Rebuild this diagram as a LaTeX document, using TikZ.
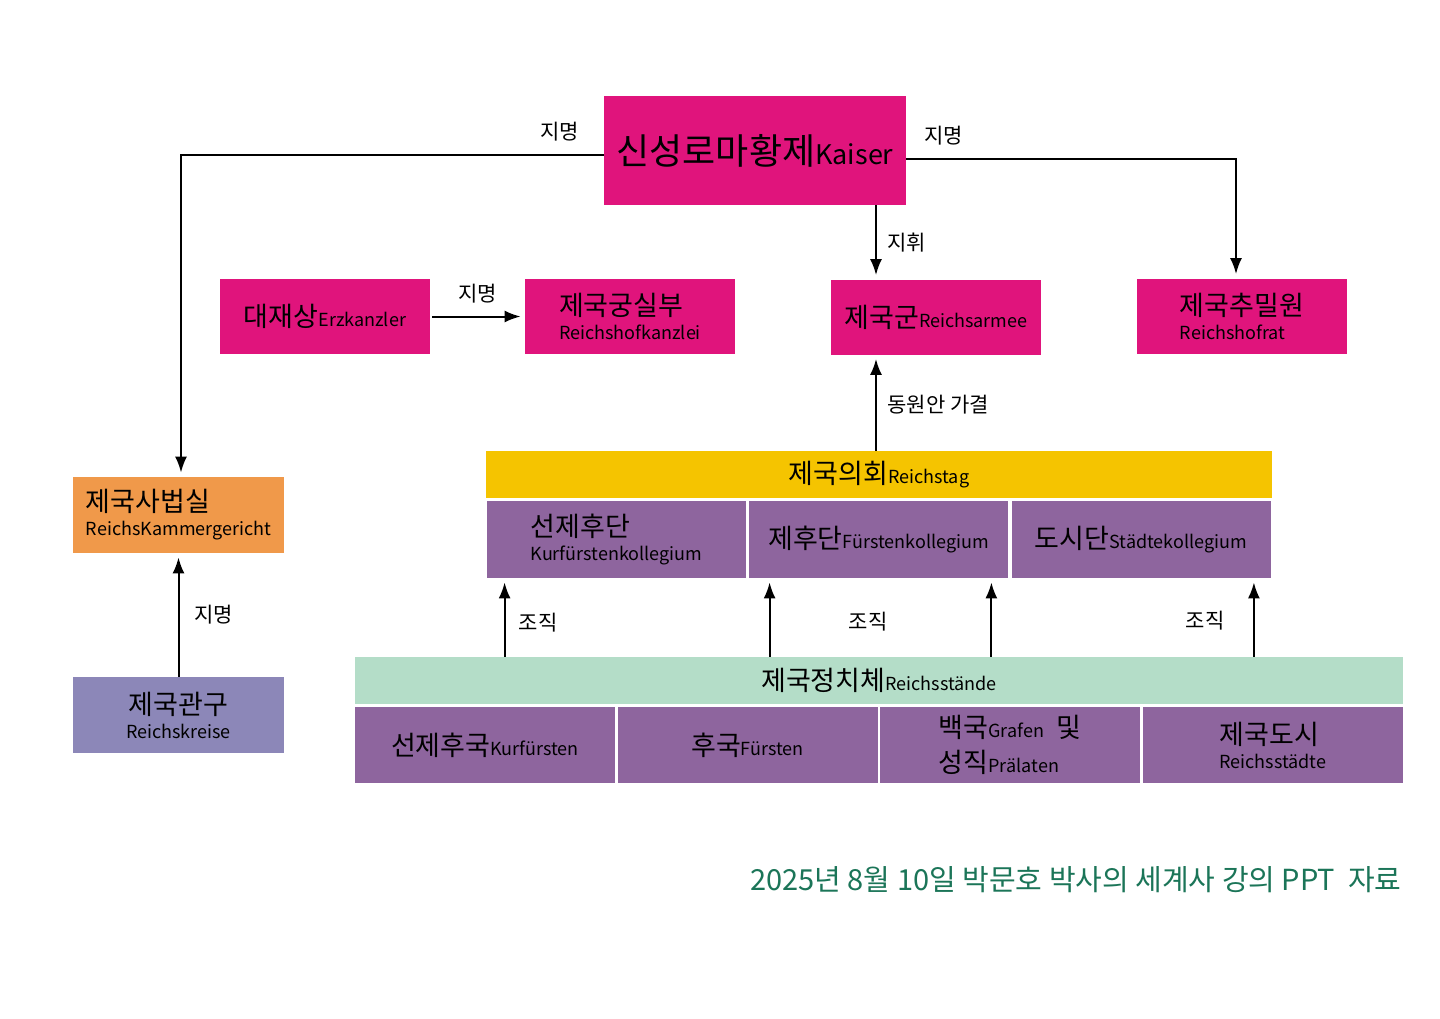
\documentclass[tikz,border=0pt]{standalone}
\usepackage{fontspec}
\setmainfont{Noto Sans CJK KR}
\usetikzlibrary{arrows.meta}

\definecolor{kaisermag}{HTML}{E0147C}
\definecolor{courtorange}{HTML}{F0994A}
\definecolor{circlelav}{HTML}{8C87B8}
\definecolor{tagyellow}{HTML}{F5C400}
\definecolor{estatepurple}{HTML}{8E659E}
\definecolor{estategreen}{HTML}{B4DDC8}
\definecolor{footgreen}{HTML}{1B7558}

\newcommand{\bigk}{\fontsize{13.5}{16}\selectfont}
\newcommand{\hugek}{\fontsize{18}{21}\selectfont}
\newcommand{\lat}{\fontsize{9}{11}\selectfont}

\tikzset{
  organ/.style={fill=kaisermag, minimum width=105pt, minimum height=37.5pt, inner sep=2pt, align=left, font=\bigk},
  college/.style={fill=estatepurple, minimum width=129.5pt, minimum height=38.5pt, inner sep=2pt, align=left, font=\bigk},
  estate/.style={fill=estatepurple, minimum width=130pt, minimum height=38pt, inner sep=0pt, align=left, font=\bigk},
  bar/.style={minimum height=23.5pt, inner sep=2pt, font=\bigk},
  arr/.style={-{Latex[length=8pt,width=6pt]}, line width=1pt, shorten >=2pt},
  lbl/.style={font=\fontsize{10.5}{12}\selectfont},
}

\begin{document}
\begin{tikzpicture}[x=0.5pt,y=-0.5pt]
                    \useasboundingbox (0,0) rectangle (1440,1018);
                    \fill [white] (0,0) rectangle (1440,1018);%

                    % Drawing box Kaiser
                    \node [organ, minimum width=151pt, minimum height=54.5pt] (kaiser) at (755,150.5) {{\hugek 신성로마황제}{\fontsize{13.5}{15}\selectfont Kaiser}};%

                    % Drawing boxes of the second row
                    \node [organ] (erz) at (325,316.5) {대재상{\lat Erzkanzler}};%
                    \node [organ] (hofk) at (630,316.5) {제국궁실부\\[-4pt]{\lat Reichshofkanzlei}};%
                    \node [organ] (armee) at (936,317) {제국군{\lat Reichsarmee}};%
                    \node [organ] (hofrat) at (1242,316) {제국추밀원\\[-4pt]{\lat Reichshofrat}};%

                    % Drawing boxes on the left
                    \node [organ, fill=courtorange, minimum width=105.5pt, minimum height=38pt] (kammer) at (178.5,515) {제국사법실\\[-4pt]{\lat ReichsKammergericht}};%
                    \node [organ, fill=circlelav, minimum width=105.5pt, minimum height=38pt, align=center] (kreise) at (178.5,715) {제국관구\\[-4pt]{\lat Reichskreise}};%

                    % Drawing Reichstag and its colleges
                    \node [bar, fill=tagyellow, minimum width=393pt] (tag) at (879,474.5) {제국의회{\lat Reichstag}};%
                    \node [college] (kurk) at (616.5,539.5) {선제후단\\[-4pt]{\lat Kurfürstenkollegium}};%
                    \node [college] (fuerk) at (878.5,539.5) {제후단{\lat Fürstenkollegium}};%
                    \node [college] (staedk) at (1141,539.5) {도시단{\lat Städtekollegium}};%

                    % Drawing Reichsstaende and the estates
                    \node [bar, fill=estategreen, minimum width=524pt] (staende) at (879,680.5) {제국정치체{\lat Reichsstände}};%
                    \node [estate] (kurf) at (485,745) {선제후국{\lat Kurfürsten}};%
                    \node [estate] (fuerst) at (747.5,745) {후국{\lat Fürsten}};%
                    \node [estate] (graf) at (1010,745) {백국{\lat Grafen}\ \ 및\\[1.5pt]성직{\lat Prälaten}};%
                    \node [estate] (stadt) at (1273,745) {제국도시\\[-4pt]{\lat Reichsstädte}};%

                    % Drawing appointments by the Kaiser
                    \draw [arr] ([yshift=-2pt]kaiser.west) -| node [lbl, pos=0.052, above=3pt] (appointL) {지명} ([xshift=1.25pt]kammer.north);%
                    \draw [arr] ([yshift=-4pt]kaiser.east) -| node [lbl, pos=0.056, above=3pt] (appointR) {지명} ([xshift=-3pt]hofrat.north);%

                    % Drawing command of the army
                    \coordinate (armeein) at ([xshift=-30pt]armee.north);%
                    \draw [arr] (kaiser.south -| armeein) -- node [lbl, right=2pt] (command) {지휘} (armeein);%
                    \draw [arr] (armeein |- tag.north) -- node [lbl, right=2pt, pos=0.48] (mobil) {동원안 가결} (armeein |- armee.south);%

                    % Drawing segment Erzkanzler Reichshofkanzlei
                    \draw [arr, shorten <=1pt] (erz) -- node [lbl, above=3pt] (appointH) {지명} (hofk);%

                    % Drawing segment Reichskreise Kammergericht
                    \draw [arr] (kreise) -- node [lbl, right=4pt] (appointK) {지명} (kammer);%

                    % Drawing organisation of the colleges
                    \coordinate (o1) at ([xshift=9pt]kurk.south west);%
                    \coordinate (o2) at ([xshift=10.5pt]fuerk.south west);%
                    \coordinate (o3) at ([xshift=-8.5pt]fuerk.south east);%
                    \coordinate (o4) at ([xshift=-8.5pt]staedk.south east);%
                    \foreach \o in {o1,o2,o3,o4}
                      \draw [arr] (staende.north -| \o) -- (\o);%
                    \node [lbl] (org1) at (538,623) {조직};%
                    \node [lbl] (org2) at (868,622) {조직};%
                    \node [lbl] (org3) at (1205,621) {조직};%

                    % Source line
                    \node [anchor=east, inner sep=0pt, text=footgreen, font=\fontsize{14.5}{17}\selectfont] (source) at (1402,880) {2025년 8월 10일 박문호 박사의 세계사 강의 PPT\ \ 자료};%
\end{tikzpicture}
\end{document}
